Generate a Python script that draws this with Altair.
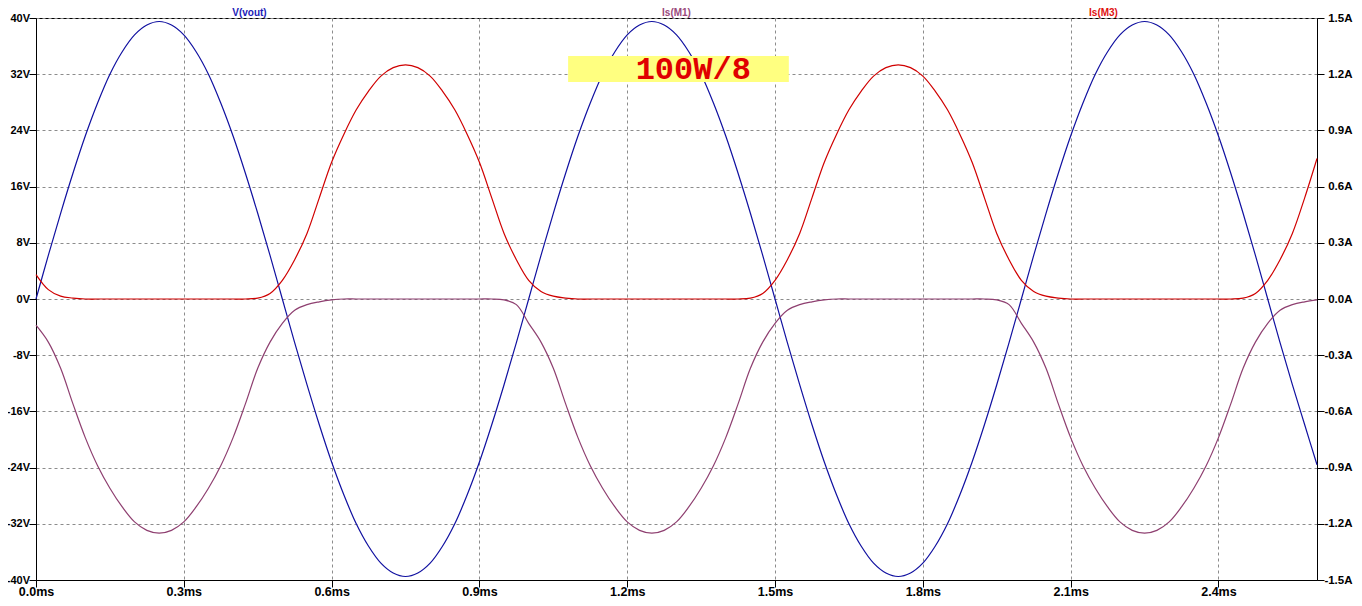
import altair as alt
import pandas as pd

# ---------------- data ----------------
T_STEP = 0.025  # ms between samples

V_OUT = [
    0, 6.2, 12.2, 17.9, 23.2, 27.9, 32.0, 35.2, 37.6, 39.0,
    39.5, 39.0, 37.6, 35.2, 32.0, 27.9, 23.2, 17.9, 12.2, 6.2,
    0, -6.2, -12.2, -17.9, -23.2, -27.9, -32.0, -35.2, -37.6, -39.0,
    -39.5, -39.0, -37.6, -35.2, -32.0, -27.9, -23.2, -17.9, -12.2, -6.2,
    0, 6.2, 12.2, 17.9, 23.2, 27.9, 32.0, 35.2, 37.6, 39.0,
    39.5, 39.0, 37.6, 35.2, 32.0, 27.9, 23.2, 17.9, 12.2, 6.2,
    0, -6.2, -12.2, -17.9, -23.2, -27.9, -32.0, -35.2, -37.6, -39.0,
    -39.5, -39.0, -37.6, -35.2, -32.0, -27.9, -23.2, -17.9, -12.2, -6.2,
    0, 6.2, 12.2, 17.9, 23.2, 27.9, 32.0, 35.2, 37.6, 39.0,
    39.5, 39.0, 37.6, 35.2, 32.0, 27.9, 23.2, 17.9, 12.2, 6.2,
    0, -6.2, -12.2, -17.9, -23.6,
]

IS_M1 = [
    -0.14, -0.23, -0.37, -0.56, -0.74, -0.89, -1.01, -1.11, -1.19, -1.235,
    -1.25, -1.235, -1.19, -1.11, -1.01, -0.89, -0.74, -0.56, -0.37, -0.23,
    -0.13, -0.06, -0.03, -0.015, -0.005, 0, 0, 0, 0, 0,
    0, 0, 0, 0, 0, 0, 0, 0, -0.005, -0.03,
    -0.13, -0.23, -0.37, -0.56, -0.74, -0.89, -1.01, -1.11, -1.19, -1.235,
    -1.25, -1.235, -1.19, -1.11, -1.01, -0.89, -0.74, -0.56, -0.37, -0.23,
    -0.13, -0.06, -0.03, -0.015, -0.005, 0, 0, 0, 0, 0,
    0, 0, 0, 0, 0, 0, 0, 0, -0.005, -0.03,
    -0.13, -0.23, -0.37, -0.56, -0.74, -0.89, -1.01, -1.11, -1.19, -1.235,
    -1.25, -1.235, -1.19, -1.11, -1.01, -0.89, -0.74, -0.56, -0.37, -0.23,
    -0.13, -0.06, -0.03, -0.015, -0.005,
]

IS_M3 = [
    0.13, 0.05, 0.015, 0.005, 0, 0, 0, 0, 0, 0,
    0, 0, 0, 0, 0, 0, 0, 0, 0.005, 0.03,
    0.10, 0.21, 0.35, 0.54, 0.73, 0.88, 1.01, 1.11, 1.19, 1.235,
    1.25, 1.235, 1.19, 1.11, 1.01, 0.88, 0.73, 0.54, 0.35, 0.21,
    0.10, 0.04, 0.015, 0.005, 0, 0, 0, 0, 0, 0,
    0, 0, 0, 0, 0, 0, 0, 0, 0.005, 0.03,
    0.10, 0.21, 0.35, 0.54, 0.73, 0.88, 1.01, 1.11, 1.19, 1.235,
    1.25, 1.235, 1.19, 1.11, 1.01, 0.88, 0.73, 0.54, 0.35, 0.21,
    0.10, 0.04, 0.015, 0.005, 0, 0, 0, 0, 0, 0,
    0, 0, 0, 0, 0, 0, 0, 0, 0.005, 0.03,
    0.10, 0.21, 0.35, 0.54, 0.75,
]

TIME = [round(i * T_STEP, 3) for i in range(len(V_OUT))]

X_DOMAIN = [0.0, 2.6]
X_TICKS = [0.0, 0.3, 0.6, 0.9, 1.2, 1.5, 1.8, 2.1, 2.4]
V_DOMAIN = [-40, 40]
V_TICKS = [-40, -32, -24, -16, -8, 0, 8, 16, 24, 32, 40]
A_DOMAIN = [-1.5, 1.5]
A_TICKS = [-1.5, -1.2, -0.9, -0.6, -0.3, 0.0, 0.3, 0.6, 0.9, 1.2, 1.5]

TRACE_NAMES = ["V(vout)", "Is(M1)", "Is(M3)"]
TRACE_LABEL_X = [0.4333, 1.3, 2.1667]
LABEL_COLORS = ["#1c1cb8", "#9a4a7c", "#e01010"]
LINE_COLORS = ["#1010a0", "#8e3f70", "#d00000"]

NOTE_TEXT = ["100W/8"]
NOTE_X = [1.334]
NOTE_Y = [32.7]
BOX_X = [1.080]
BOX_X2 = [1.528]
BOX_Y = [30.9]
BOX_Y2 = [34.6]

# ---------------- chart ----------------
W, H = 1281, 562
FONT = "Liberation Sans"

df = pd.DataFrame({"t": TIME, "v": V_OUT, "m1": IS_M1, "m3": IS_M3})
labels_df = pd.DataFrame({"t": TRACE_LABEL_X, "name": TRACE_NAMES, "c": LABEL_COLORS})
box_df = pd.DataFrame({"x": BOX_X, "x2": BOX_X2, "y": BOX_Y, "y2": BOX_Y2})
note_df = pd.DataFrame({"x": NOTE_X, "y": NOTE_Y, "txt": NOTE_TEXT})

xscale = alt.Scale(domain=X_DOMAIN, nice=False, zero=False)
vscale = alt.Scale(domain=V_DOMAIN, nice=False, zero=False)
ascale = alt.Scale(domain=A_DOMAIN, nice=False, zero=False)

axis_common = dict(
    labelFont=FONT, labelFontWeight="bold", labelColor="black",
    tickColor="black", tickSize=7, domainColor="black", domainWidth=1,
    title=None, labelFlush=False, labelOverlap=False,
)
GRID = dict(grid=True, gridDash=[3, 3], gridColor="#8c8c8c", gridWidth=1)

x_axis = alt.Axis(
    values=X_TICKS, labelExpr="format(datum.value, '.1f') + 'ms'",
    labelFontSize=12.5, labelPadding=-1.5, **GRID, **axis_common,
)
v_axis = alt.Axis(
    orient="left", values=V_TICKS, labelExpr="datum.value + 'V'",
    labelFontSize=11, labelPadding=-0.5, **GRID, **axis_common,
)
a_axis = alt.Axis(
    orient="right", values=A_TICKS,
    labelExpr="(datum.value < 0 ? '-' : '') + format(abs(datum.value), '.1f') + 'A'",
    labelFontSize=11.5, labelAlign="right", labelPadding=28,
    grid=False, **axis_common,
)

base = alt.Chart(df)
INTERP = "catmull-rom"

blue = base.mark_line(color=LINE_COLORS[0], strokeWidth=1.2, interpolate=INTERP).encode(
    x=alt.X("t:Q", scale=xscale, axis=x_axis),
    y=alt.Y("v:Q", scale=vscale, axis=v_axis),
)
purple = base.mark_line(color=LINE_COLORS[1], strokeWidth=1.2, interpolate=INTERP).encode(
    x=alt.X("t:Q", scale=xscale),
    y=alt.Y("m1:Q", scale=ascale, axis=a_axis),
)
red = base.mark_line(color=LINE_COLORS[2], strokeWidth=1.2, interpolate=INTERP).encode(
    x=alt.X("t:Q", scale=xscale),
    y=alt.Y("m3:Q", scale=ascale, axis=None),
)

box = alt.Chart(box_df).mark_rect(color="#ffff80", opacity=1).encode(
    x=alt.X("x:Q", scale=xscale),
    x2="x2:Q",
    y=alt.Y("y:Q", scale=vscale, axis=None),
    y2="y2:Q",
)
note = alt.Chart(note_df).mark_text(
    font="Liberation Mono", fontSize=32, fontWeight="bold", color="#e00000",
    baseline="middle", align="center",
).encode(
    x=alt.X("x:Q", scale=xscale),
    y=alt.Y("y:Q", scale=vscale, axis=None),
    text="txt:N",
)

trace_labels = alt.Chart(labels_df).mark_text(
    font=FONT, fontSize=10, fontWeight="bold", baseline="bottom", align="center",
).encode(
    x=alt.X("t:Q", scale=xscale),
    y=alt.value(0),
    text="name:N",
    color=alt.Color("c:N", scale=None, legend=None),
)

chart = (
    alt.layer(blue, purple, red, box, note, trace_labels)
    .resolve_scale(y="independent")
    .properties(
        width=W, height=H,
        autosize=alt.AutoSizeParams(type="none"),
        padding={"left": 28, "top": 10, "right": 37, "bottom": 18},
        background="white",
    )
    .configure_view(stroke="black", strokeWidth=1)
)

chart.save("out.html", embed_options={"renderer": "svg", "actions": False})
